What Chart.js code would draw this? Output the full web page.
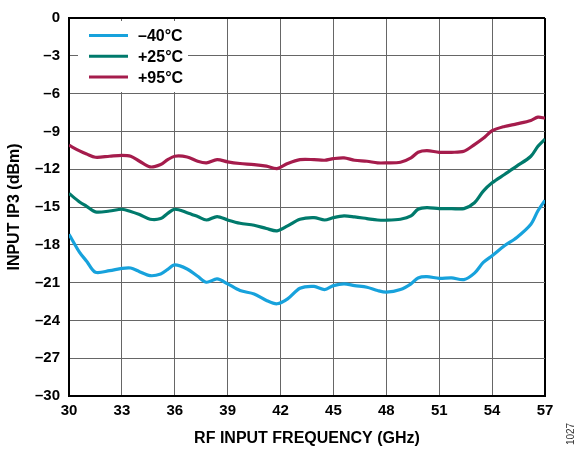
<!DOCTYPE html>
<html><head><meta charset="utf-8">
<script src="https://cdn.jsdelivr.net/npm/chart.js@4/dist/chart.umd.min.js"></script>
<style>html,body{margin:0;padding:0;background:#fff}</style>
</head><body>
<canvas id="c" width="580" height="451" style="display:block"></canvas>
<script>
const freqGHz = [30, 30.6, 31.0, 31.5, 32.3, 33.0, 33.5, 34.0, 34.6, 35.2, 35.6, 36.0, 36.7, 37.3, 37.8, 38.4, 39.0, 39.7, 40.5, 41.2, 41.8, 42.4, 43.1, 43.9, 44.5, 45.0, 45.6, 46.2, 46.9, 47.5, 48.0, 48.8, 49.4, 49.8, 50.3, 51.0, 51.7, 52.4, 53.0, 53.5, 54.0, 54.7, 55.4, 56.2, 56.6, 57.0];
const ip3Minus40 = [-17.16, -18.6, -19.3, -20.18, -20.05, -19.87, -19.84, -20.13, -20.45, -20.32, -19.95, -19.6, -19.92, -20.5, -20.97, -20.71, -21.1, -21.63, -21.9, -22.42, -22.68, -22.29, -21.45, -21.3, -21.55, -21.24, -21.1, -21.24, -21.37, -21.63, -21.76, -21.55, -21.1, -20.63, -20.53, -20.66, -20.62, -20.76, -20.25, -19.4, -18.87, -18.08, -17.42, -16.37, -15.3, -14.47];
const ip3Plus25 = [-13.92, -14.6, -14.95, -15.39, -15.32, -15.18, -15.35, -15.6, -15.97, -15.92, -15.5, -15.18, -15.45, -15.76, -16.03, -15.76, -16.03, -16.29, -16.45, -16.71, -16.89, -16.5, -15.97, -15.84, -16.03, -15.84, -15.71, -15.79, -15.92, -16.03, -16.05, -15.97, -15.71, -15.18, -15.05, -15.13, -15.13, -15.13, -14.66, -13.74, -13.08, -12.42, -11.76, -10.97, -10.18, -9.61];
const ip3Plus95 = [-10.1, -10.55, -10.8, -11.05, -10.97, -10.9, -10.97, -11.37, -11.82, -11.63, -11.24, -10.97, -11.03, -11.37, -11.5, -11.24, -11.42, -11.55, -11.63, -11.76, -11.95, -11.55, -11.24, -11.24, -11.29, -11.16, -11.1, -11.29, -11.37, -11.5, -11.5, -11.45, -11.1, -10.66, -10.53, -10.66, -10.66, -10.58, -10.05, -9.55, -8.95, -8.61, -8.4, -8.13, -7.87, -7.95];
const seriesLabels = ['\u201340\u00B0C', '+25\u00B0C', '+95\u00B0C'];
const seriesColors = ['#17a2dc', '#007a6c', '#a51c4c'];
const xTickValues = [30, 33, 36, 39, 42, 45, 48, 51, 54, 57];
const yTickValues = [0, -3, -6, -9, -12, -15, -18, -21, -24, -27, -30];
const xTitle = 'RF INPUT FREQUENCY (GHz)';
const yTitle = 'INPUT IP3 (dBm)';
const figureNumber = '1027';

const FONT = '"Liberation Sans", Arial, Helvetica, sans-serif';
const toPts = arr => freqGHz.map((f, i) => ({x: f, y: arr[i]}));
const seriesData = [ip3Minus40, ip3Plus25, ip3Plus95];

const insetLegend = {
  id: 'insetLegend',
  afterDraw(chart) {
    const ctx = chart.ctx, a = chart.chartArea;
    ctx.save();
    ctx.fillStyle = '#fff';
    ctx.fillRect(a.left + 9, a.top + 3, 110, 71);
    chart.data.datasets.forEach((ds, i) => {
      const y = a.top + 17.5 + i * 20.8;
      ctx.strokeStyle = ds.borderColor;
      ctx.lineWidth = 3;
      ctx.beginPath(); ctx.moveTo(a.left + 20, y); ctx.lineTo(a.left + 59, y); ctx.stroke();
      ctx.fillStyle = '#000';
      ctx.font = 'bold 16px ' + FONT;
      ctx.textBaseline = 'middle';
      ctx.textAlign = 'left';
      ctx.fillText(ds.label, a.left + 69, y + 1);
    });
    ctx.translate(571, 434);
    ctx.rotate(-Math.PI / 2);
    ctx.font = '10px ' + FONT;
    ctx.fillStyle = '#333';
    ctx.textAlign = 'center';
    ctx.textBaseline = 'middle';
    ctx.fillText(figureNumber, 0, 0);
    ctx.restore();
  }
};

const dash = v => v < 0 ? '\u2013' + Math.abs(v) : String(v);
const GRID = '#666';

new Chart(document.getElementById('c'), {
  type: 'line',
  data: {
    datasets: seriesData.map((d, i) => ({
      label: seriesLabels[i],
      data: toPts(d),
      borderColor: seriesColors[i],
      backgroundColor: seriesColors[i],
      borderWidth: 3.2,
      pointRadius: 0,
      tension: 0.3,
      fill: false
    }))
  },
  options: {
    responsive: false,
    animation: false,
    layout: {padding: {left: 0, right: 35, top: 15, bottom: 0}},
    plugins: {legend: {display: false}, tooltip: {enabled: false}},
    scales: {
      x: {
        type: 'linear', min: 30, max: 57,
        afterBuildTicks: s => { s.ticks = xTickValues.map(v => ({value: v})); },
        afterFit: s => { s.height = 55; },
        ticks: {color: '#000', font: {family: FONT, size: 15, weight: 'bold'}, padding: 6, maxRotation: 0, autoSkip: false},
        grid: {drawTicks: false, color: c => (c.tick && c.tick.value === 57) ? '#000' : GRID, lineWidth: c => (c.tick && c.tick.value === 57) ? 2 : 1},
        border: {color: '#000', width: 2},
        title: {display: true, text: xTitle, color: '#000', font: {family: FONT, size: 16, weight: 'bold'}, padding: {top: 4, bottom: 3}}
      },
      y: {
        type: 'linear', min: -30, max: 0,
        afterBuildTicks: s => { s.ticks = yTickValues.slice().reverse().map(v => ({value: v})); },
        afterFit: s => { s.width = 69; },
        ticks: {color: '#000', font: {family: FONT, size: 15, weight: 'bold'}, padding: 9, callback: v => dash(v), autoSkip: false},
        grid: {drawTicks: false, color: c => (c.tick && c.tick.value === 0) ? '#000' : GRID, lineWidth: c => (c.tick && c.tick.value === 0) ? 2 : 1},
        border: {color: '#000', width: 2},
        title: {display: true, text: yTitle, color: '#000', font: {family: FONT, size: 16, weight: 'bold'}, padding: {top: 5, bottom: 0}}
      }
    }
  },
  plugins: [insetLegend]
});
</script>
</body></html>
